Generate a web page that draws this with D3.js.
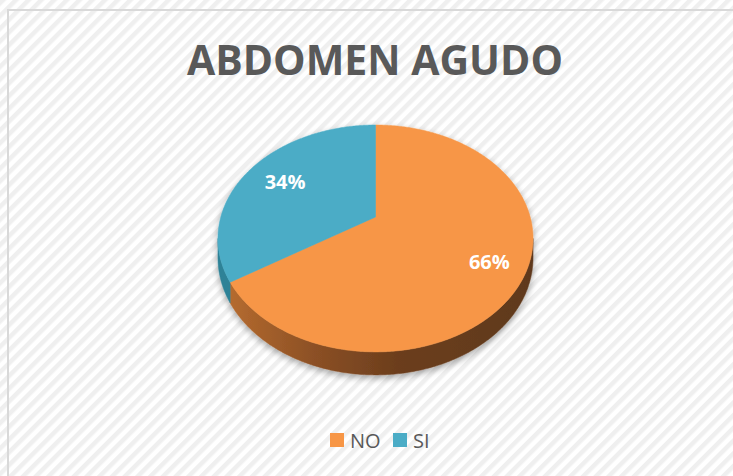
<!DOCTYPE html>
<html>
<head>
<meta charset="utf-8">
<script src="https://cdn.jsdelivr.net/npm/d3@7"></script>
<style>
html,body{margin:0;padding:0;background:#fff;}
svg{display:block;}
</style>
</head>
<body>
<svg id="chart" width="733" height="476"></svg>
<script>
// ---- data ----
const title = "ABDOMEN AGUDO";
const categories = ["NO", "SI"];
const values = [66, 34];
const colors = ["#F79646", "#4BACC6"];
const sideColors = ["url(#sideGradNO)", "#2e8297"];

// ---- layout ----
const W = 733, H = 476;
const cx = 375.5, cy = 217;      // projected centre of pie
const a = 154.7, b = 109.4;      // projected radii
const k = 0.189;                 // perspective factor
const d = 18.65;                 // thickness
const labelR = [0.78, 0.71];

const svg = d3.select("#chart");
const defs = svg.append("defs");

// striped background pattern
const pat = defs.append("pattern").attr("id", "stripes")
  .attr("patternUnits", "userSpaceOnUse").attr("width", 9).attr("height", 9)
  .attr("patternTransform", "rotate(45)");
pat.append("rect").attr("width", 9).attr("height", 9).attr("fill", "#ffffff");
pat.append("rect").attr("width", 4.5).attr("height", 9).attr("fill", "#efefef");

const g1 = defs.append("linearGradient").attr("id", "sideGradNO")
  .attr("gradientUnits", "userSpaceOnUse")
  .attr("x1", 229).attr("x2", 533).attr("y1", 0).attr("y2", 0);
[[0, "#b56b2f"], [0.28, "#8c5025"], [0.55, "#6c3e1d"], [1, "#5f391c"]]
  .forEach(([o, c]) => g1.append("stop").attr("offset", o).attr("stop-color", c));

const sh = defs.append("filter").attr("id", "shadow")
  .attr("x", "-20%").attr("y", "-20%").attr("width", "140%").attr("height", "140%");
sh.append("feGaussianBlur").attr("in", "SourceAlpha").attr("stdDeviation", 3.5).attr("result", "blur");
sh.append("feOffset").attr("in", "blur").attr("dx", 0).attr("dy", 3).attr("result", "off");
sh.append("feComponentTransfer").attr("in", "off").attr("result", "soft")
  .append("feFuncA").attr("type", "linear").attr("slope", 0.35);
const mg = sh.append("feMerge");
mg.append("feMergeNode").attr("in", "soft");
mg.append("feMergeNode").attr("in", "SourceGraphic");

// background + border
svg.append("rect").attr("x", 0).attr("y", 0).attr("width", W).attr("height", H).attr("fill", "url(#stripes)");
svg.append("rect").attr("x", 8).attr("y", 10).attr("width", W + 20).attr("height", H + 20)
  .attr("fill", "none").attr("stroke", "#d9d9d9").attr("stroke-width", 2);

// title
svg.append("text").attr("x", 375).attr("y", 75)
  .attr("text-anchor", "middle")
  .attr("font-family", "'Open Sans', sans-serif").attr("font-weight", "bold")
  .attr("font-size", 41).attr("fill", "#595959")
  .attr("textLength", 376).attr("lengthAdjust", "spacingAndGlyphs")
  .text(title);

// projection of point on unit disk (angle clockwise from top), r in [0,1], depth 0 = top, 1 = bottom
function proj(theta, r, depth) {
  const u = r * Math.sin(theta), v = -r * Math.cos(theta);
  const w = 1 - k * v;
  return [cx + a * u / w, cy + (b * v + depth * d) / w];
}
function arcPts(t0, t1, depth) {
  const n = Math.max(2, Math.ceil(Math.abs(t1 - t0) / 0.01));
  return d3.range(n + 1).map(i => proj(t0 + (t1 - t0) * i / n, 1, depth));
}

const pie = d3.pie().sort(null).value(v => v).startAngle(0).endAngle(2 * Math.PI);
const arcs = pie(values);

const gPie = svg.append("g").attr("filter", "url(#shadow)");
const line = d3.line();

// visible side range (front half)
const tR = Math.acos(-k), tL = 2 * Math.PI - Math.acos(-k);

// sides
arcs.forEach((s, i) => {
  const t0 = Math.max(s.startAngle, tR), t1 = Math.min(s.endAngle, tL);
  if (t1 <= t0) return;
  const top = arcPts(t0, t1, 0), bot = arcPts(t1, t0, 1);
  gPie.append("path").attr("d", line(top.concat(bot)) + "Z")
    .attr("fill", sideColors[i]).attr("stroke", sideColors[i]).attr("stroke-width", 0.5);
});

// top faces
arcs.forEach((s, i) => {
  const pts = [proj(0, 0, 0)].concat(arcPts(s.startAngle, s.endAngle, 0));
  gPie.append("path").attr("d", line(pts) + "Z")
    .attr("fill", colors[i]).attr("stroke", colors[i]).attr("stroke-width", 0.5);
});

// labels
const total = d3.sum(values);
arcs.forEach((s, i) => {
  const p = proj((s.startAngle + s.endAngle) / 2, labelR[i], 0);
  svg.append("text").attr("x", p[0]).attr("y", p[1])
    .attr("text-anchor", "middle").attr("dominant-baseline", "central")
    .attr("font-family", "'Open Sans', sans-serif").attr("font-weight", "bold")
    .attr("font-size", 20).attr("fill", "#ffffff")
    .text(Math.round(values[i] / total * 100) + "%");
});

// legend
const legX = [330, 393];
const leg = svg.append("g");
categories.forEach((c, i) => {
  leg.append("rect").attr("x", legX[i]).attr("y", 433).attr("width", 14).attr("height", 14).attr("fill", colors[i]);
  leg.append("text").attr("x", legX[i] + 20).attr("y", 447.5)
    .attr("font-family", "'Open Sans', sans-serif").attr("font-size", 20).attr("fill", "#595959")
    .text(c);
});
</script>
</body>
</html>
